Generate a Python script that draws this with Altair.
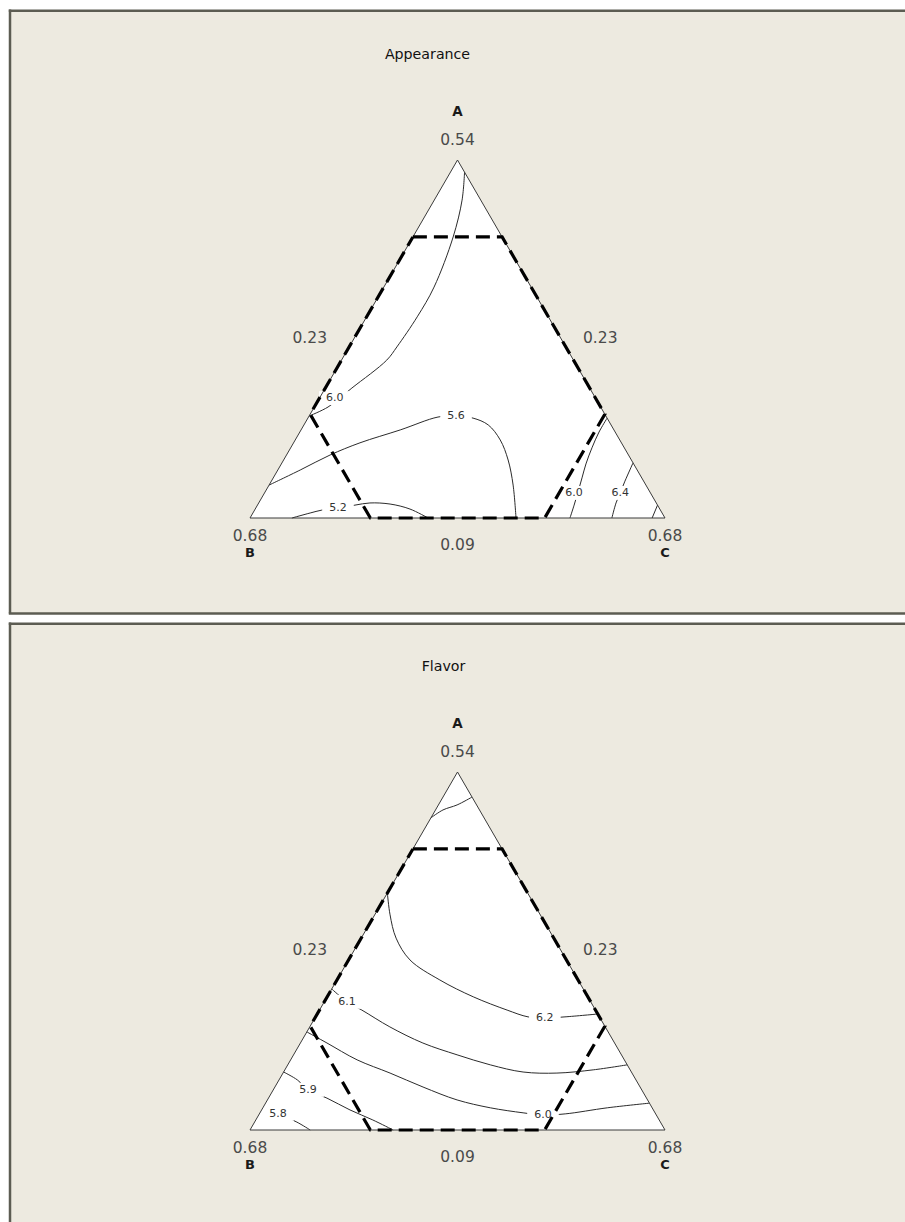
import altair as alt
import pandas as pd

# ---------------------------------------------------------------
# Mixture (simplex) contour plots of two sensory responses.
# Every point is given as pseudo-component fractions A and C
# (B = 1 - A - C); Cartesian position is x = C + A/2, height = A.
# ---------------------------------------------------------------

# Constrained experimental region (dashed hexagon)
REGION_A = [0.785, 0.785, 0.29, 0.0, 0.0, 0.29, 0.785]
REGION_C = [0.0, 0.215, 0.71, 0.71, 0.29, 0.0, 0.0]

# Axis values written at the vertices and edge midpoints
VERTEX_NAMES = ["A", "B", "C"]
APEX_VALUE = "0.54"
SIDE_VALUE = "0.23"
BASE_VALUE = "0.09"
CORNER_VALUE = "0.68"

# ---- Appearance contours ----
APP_60_NW_A = [0.966, 0.888, 0.785, 0.645, 0.562, 0.478, 0.441, 0.363, 0.310, 0.285]
APP_60_NW_C = [0.034, 0.067, 0.097, 0.121, 0.122, 0.115, 0.109, 0.064, 0.033, 0.000]
APP_56_A = [0.092, 0.134, 0.176, 0.210, 0.246, 0.282, 0.285, 0.279, 0.260, 0.218, 0.162, 0.092, 0.000]
APP_56_C = [0.000, 0.054, 0.105, 0.160, 0.239, 0.312, 0.354, 0.398, 0.444, 0.494, 0.541, 0.588, 0.641]
APP_52_A = [0.000, 0.014, 0.022, 0.028, 0.036, 0.042, 0.039, 0.025, 0.000]
APP_52_C = [0.101, 0.138, 0.162, 0.198, 0.235, 0.268, 0.318, 0.373, 0.429]
APP_60_SE_A = [0.000, 0.036, 0.073, 0.112, 0.151, 0.196, 0.240, 0.279]
APP_60_SE_C = [0.771, 0.763, 0.754, 0.744, 0.734, 0.726, 0.721, 0.721]
APP_64_A = [0.000, 0.042, 0.070, 0.103, 0.154]
APP_64_C = [0.872, 0.861, 0.857, 0.852, 0.846]
APP_68_A = [0.000, 0.036]
APP_68_C = [0.969, 0.964]

APP_LABELS = ["6.0", "5.6", "5.2", "6.0", "6.4"]
APP_LABEL_A = [0.335, 0.285, 0.028, 0.070, 0.070]
APP_LABEL_C = [0.037, 0.354, 0.198, 0.746, 0.857]

# ---- Flavor contours ----
FLV_63_A = [0.872, 0.894, 0.908, 0.930]
FLV_63_C = [0.000, 0.018, 0.045, 0.070]
FLV_62_A = [0.662, 0.601, 0.536, 0.475, 0.419, 0.372, 0.335, 0.316, 0.313, 0.316, 0.324]
FLV_62_C = [0.000, 0.037, 0.084, 0.148, 0.248, 0.352, 0.452, 0.512, 0.554, 0.601, 0.676]
FLV_61_A = [0.394, 0.358, 0.335, 0.288, 0.243, 0.210, 0.182, 0.162, 0.159, 0.168, 0.182]
FLV_61_C = [0.000, 0.055, 0.102, 0.193, 0.295, 0.394, 0.488, 0.577, 0.660, 0.743, 0.818]
FLV_60_A = [0.274, 0.243, 0.196, 0.159, 0.120, 0.084, 0.062, 0.048, 0.042, 0.045, 0.062, 0.075]
FLV_60_C = [0.000, 0.064, 0.160, 0.258, 0.357, 0.457, 0.548, 0.634, 0.685, 0.737, 0.830, 0.925]
FLV_59_A = [0.162, 0.140, 0.112, 0.089, 0.056, 0.028, 0.000]
FLV_59_C = [0.000, 0.044, 0.084, 0.141, 0.213, 0.282, 0.345]
FLV_58_A = [0.062, 0.045, 0.022, 0.000]
FLV_58_C = [0.000, 0.045, 0.102, 0.145]

FLV_LABELS = ["6.2", "6.1", "6.0", "5.9", "5.8"]
FLV_LABEL_A = [0.313, 0.358, 0.042, 0.112, 0.045]
FLV_LABEL_C = [0.554, 0.055, 0.685, 0.084, 0.045]

APP_LINES = {
    "6.0 upper": (APP_60_NW_A, APP_60_NW_C),
    "5.6": (APP_56_A, APP_56_C),
    "5.2": (APP_52_A, APP_52_C),
    "6.0 lower": (APP_60_SE_A, APP_60_SE_C),
    "6.4": (APP_64_A, APP_64_C),
    "6.8": (APP_68_A, APP_68_C),
}
FLV_LINES = {
    "6.3": (FLV_63_A, FLV_63_C),
    "6.2": (FLV_62_A, FLV_62_C),
    "6.1": (FLV_61_A, FLV_61_C),
    "6.0": (FLV_60_A, FLV_60_C),
    "5.9": (FLV_59_A, FLV_59_C),
    "5.8": (FLV_58_A, FLV_58_C),
}

FONT = "DejaVu Sans"
PANEL_FILL = "#EDEAE0"
PANEL_EDGE = "#5C5C52"
WIDTH = 905
SIDE_PX = 415        # triangle side length on screen
HEIGHT_PX = 358      # triangle height on screen
LEFT_PX = 250        # screen x of vertex B
X_DOMAIN = [-LEFT_PX / SIDE_PX, (WIDTH - LEFT_PX) / SIDE_PX]
LABEL_BOX = "M-1.25,-0.55L1.25,-0.55L1.25,0.55L-1.25,0.55Z"
TO_XY = {"x": "datum.c + datum.a / 2"}
ONE_ROW = pd.DataFrame({"k": [0]})


def lines_frame(lines):
    rows = []
    for key, (a_vals, c_vals) in lines.items():
        for i, (a, c) in enumerate(zip(a_vals, c_vals)):
            rows.append({"id": key, "i": i, "a": a, "c": c})
    return pd.DataFrame(rows)


def panel(title, title_dx, lines, labels, label_a, label_c, height, base_px,
          frame_top, frame_bottom):
    y_domain = [-(height - base_px) / HEIGHT_PX, base_px / HEIGHT_PX]
    xs = alt.X("x:Q", scale=alt.Scale(domain=X_DOMAIN), axis=None)
    ys = alt.Y("a:Q", scale=alt.Scale(domain=y_domain), axis=None)

    # panel background, open on the right (it runs past the page edge)
    bottom_edge = min(frame_bottom, height)
    edge = dict(color=PANEL_EDGE, strokeWidth=2.5, clip=True)
    frame = [
        alt.Chart(ONE_ROW).mark_rect(fill=PANEL_FILL, strokeWidth=0, clip=True).encode(
            x=alt.value(10), x2=alt.value(WIDTH),
            y=alt.value(frame_top), y2=alt.value(bottom_edge),
        ),
        alt.Chart(ONE_ROW).mark_rule(**edge).encode(
            x=alt.value(10), y=alt.value(frame_top - 1.2), y2=alt.value(bottom_edge),
        ),
        alt.Chart(ONE_ROW).mark_rule(**edge).encode(
            x=alt.value(8.8), x2=alt.value(WIDTH), y=alt.value(frame_top),
        ),
    ]
    if frame_bottom <= height:
        frame.append(
            alt.Chart(ONE_ROW).mark_rule(**edge).encode(
                x=alt.value(8.8), x2=alt.value(WIDTH), y=alt.value(frame_bottom),
            )
        )

    corners = pd.DataFrame({"a": [0, 1, 0], "c": [0, 0, 1]})
    tri_fill = alt.Chart(corners).transform_calculate(**TO_XY).mark_area(
        color="white"
    ).encode(x=xs, y=ys, y2=alt.datum(0))

    outline_df = pd.DataFrame({"a": [0, 1, 0, 0], "c": [0, 0, 1, 0], "i": [0, 1, 2, 3]})
    outline = alt.Chart(outline_df).transform_calculate(**TO_XY).mark_line(
        color="#3a3a3a", strokeWidth=1
    ).encode(x=xs, y=ys, order="i:Q")

    contours = alt.Chart(lines_frame(lines)).transform_calculate(**TO_XY).mark_line(
        color="#2b2b2b", strokeWidth=1, interpolate="catmull-rom"
    ).encode(x=xs, y=ys, detail="id:N", order="i:Q")

    lab_df = pd.DataFrame({"text": labels, "a": label_a, "c": label_c})
    boxes = alt.Chart(lab_df).transform_calculate(**TO_XY).mark_point(
        shape=LABEL_BOX, size=640, filled=True, color="white", opacity=1, strokeWidth=0
    ).encode(x=xs, y=ys)
    lab_text = alt.Chart(lab_df).transform_calculate(**TO_XY).mark_text(
        font=FONT, fontSize=11, color="#333333"
    ).encode(x=xs, y=ys, text="text:N")

    region_df = pd.DataFrame({"a": REGION_A, "c": REGION_C, "i": range(len(REGION_A))})
    region = alt.Chart(region_df).transform_calculate(**TO_XY).mark_line(
        color="black", strokeWidth=3.2, strokeDash=[14, 7]
    ).encode(x=xs, y=ys, order="i:Q")

    def note(text, a, c, dx=0, dy=0, size=15.5, bold=False, color="#4a4a4a"):
        df = pd.DataFrame({"text": [text], "a": [a], "c": [c]})
        return alt.Chart(df).transform_calculate(**TO_XY).mark_text(
            font=FONT, fontSize=size, fontWeight="bold" if bold else "normal",
            color=color, dx=dx, dy=dy,
        ).encode(x=xs, y=ys, text="text:N")

    texts = [
        note(title, 1, 0, dx=title_dx, dy=-105, size=14.2, color="#111111"),
        note(VERTEX_NAMES[0], 1, 0, dy=-48, size=13.5, bold=True, color="#1a1a1a"),
        note(APEX_VALUE, 1, 0, dy=-20),
        note(SIDE_VALUE, 0.5, 0, dx=-44, dy=-1),
        note(SIDE_VALUE, 0.5, 0.5, dx=39, dy=-1),
        note(CORNER_VALUE, 0, 0, dy=18),
        note(VERTEX_NAMES[1], 0, 0, dy=35, size=13, bold=True, color="#1a1a1a"),
        note(BASE_VALUE, 0, 0.5, dy=27),
        note(CORNER_VALUE, 0, 1, dy=18),
        note(VERTEX_NAMES[2], 0, 1, dy=35, size=13, bold=True, color="#1a1a1a"),
    ]

    return alt.layer(
        *frame, tri_fill, contours, boxes, outline, region, lab_text, *texts
    ).properties(width=WIDTH, height=height)


top = panel("Appearance", -30, APP_LINES, APP_LABELS, APP_LABEL_A, APP_LABEL_C,
            height=618, base_px=518, frame_top=10.8, frame_bottom=613.5)
bottom = panel("Flavor", -14, FLV_LINES, FLV_LABELS, FLV_LABEL_A, FLV_LABEL_C,
               height=604, base_px=512, frame_top=5.7, frame_bottom=640)

chart = alt.vconcat(top, bottom, spacing=0).properties(
    padding=0, background="white"
).configure_view(strokeWidth=0)

chart.save("out.html", embed_options={"renderer": "svg", "actions": False})
